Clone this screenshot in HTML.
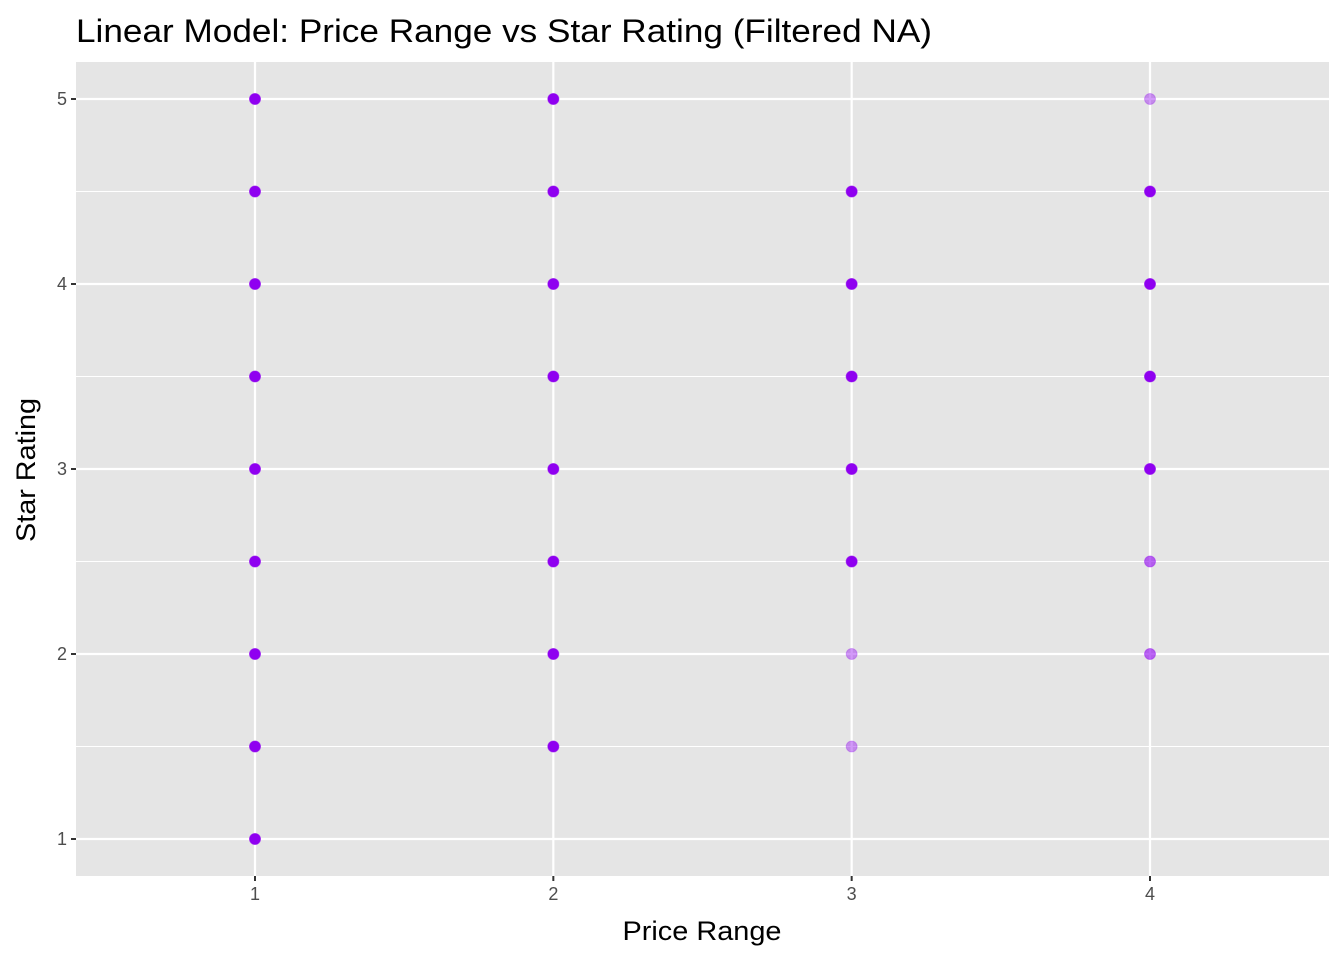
<!DOCTYPE html>
<html><head><meta charset="utf-8"><style>
body{margin:0;background:#fff;}
svg{display:block;font-family:"Liberation Sans",Arial,sans-serif;}
</style></head><body>
<svg id="chart" width="1344" height="960" viewBox="0 0 1344 960" xmlns="http://www.w3.org/2000/svg">
<text x="76" y="42" font-size="32" textLength="856" lengthAdjust="spacingAndGlyphs" fill="#000">Linear Model: Price Range vs Star Rating (Filtered NA)</text>
<rect x="76" y="62" width="1253" height="814" fill="#e5e5e5"/>
<g id="grid"></g>
<g id="points"></g>
<g id="axes"></g>
<text x="702" y="940" font-size="27" textLength="159" lengthAdjust="spacingAndGlyphs" text-anchor="middle" fill="#000">Price Range</text>
<text transform="translate(35,470) rotate(-90)" font-size="27" textLength="144" lengthAdjust="spacingAndGlyphs" text-anchor="middle" fill="#000">Star Rating</text>
</svg>
<script>
const xTicks=[1,2,3,4];
const yTicks=[1,2,3,4,5];
const yMinor=[1.5,2.5,3.5,4.5];
const ptX=[1,1,1,1,1,1,1,1,1, 2,2,2,2,2,2,2,2, 3,3,3,3,3,3,3, 4,4,4,4,4,4,4];
const ptY=[1,1.5,2,2.5,3,3.5,4,4.5,5, 1.5,2,2.5,3,3.5,4,4.5,5, 1.5,2,2.5,3,3.5,4,4.5, 2,2.5,3,3.5,4,4.5,5];
const ptA=[1,1,1,1,1,1,1,1,1, 1,1,1,1,1,1,1,1, 0.4,0.4,1,1,1,1,1, 0.6,0.6,1,1,1,1,0.4];
const NS="http://www.w3.org/2000/svg";
const L=76,R=1329,T=62,B=876,xMin=0.4,xMax=4.6,yMin=0.8,yMax=5.2;
const sx=v=>L+(v-xMin)/(xMax-xMin)*(R-L);
const sy=v=>B-(v-yMin)/(yMax-yMin)*(B-T);
function mk(tag,attrs,parent){const e=document.createElementNS(NS,tag);for(const k in attrs)e.setAttribute(k,attrs[k]);parent.appendChild(e);return e;}
const grid=document.getElementById('grid'),pts=document.getElementById('points'),axes=document.getElementById('axes');
yMinor.forEach(v=>{const e=mk('line',{x1:L,x2:R,y1:sy(v),y2:sy(v),stroke:'#fff','stroke-width':1.1},grid);

});
yTicks.forEach(v=>{const e=mk('line',{x1:L,x2:R,y1:sy(v),y2:sy(v),stroke:'#fff','stroke-width':2.2},grid);


const t=mk('line',{x1:L-5,x2:L,y1:sy(v),y2:sy(v),stroke:'#333','stroke-width':2},axes);


const l=mk('text',{x:L-9,y:sy(v)+6,'font-size':18,'text-anchor':'end',fill:'#4d4d4d'},axes);l.textContent=v;

});
xTicks.forEach(v=>{const e=mk('line',{x1:sx(v),x2:sx(v),y1:T,y2:B,stroke:'#fff','stroke-width':2.2},grid);


const t=mk('line',{x1:sx(v),x2:sx(v),y1:B,y2:B+5,stroke:'#333','stroke-width':2},axes);


const l=mk('text',{x:sx(v),y:B+24,'font-size':18,'text-anchor':'middle',fill:'#4d4d4d'},axes);l.textContent=v;

});
ptX.forEach((x,i)=>{const c=mk('circle',{cx:sx(x),cy:sy(ptY[i]),r:5.5,fill:'#8f00f0','fill-opacity':ptA[i],stroke:'#8f00f0','stroke-opacity':ptA[i]*0.6,'stroke-width':1},pts);

});
</script>
</body></html>
